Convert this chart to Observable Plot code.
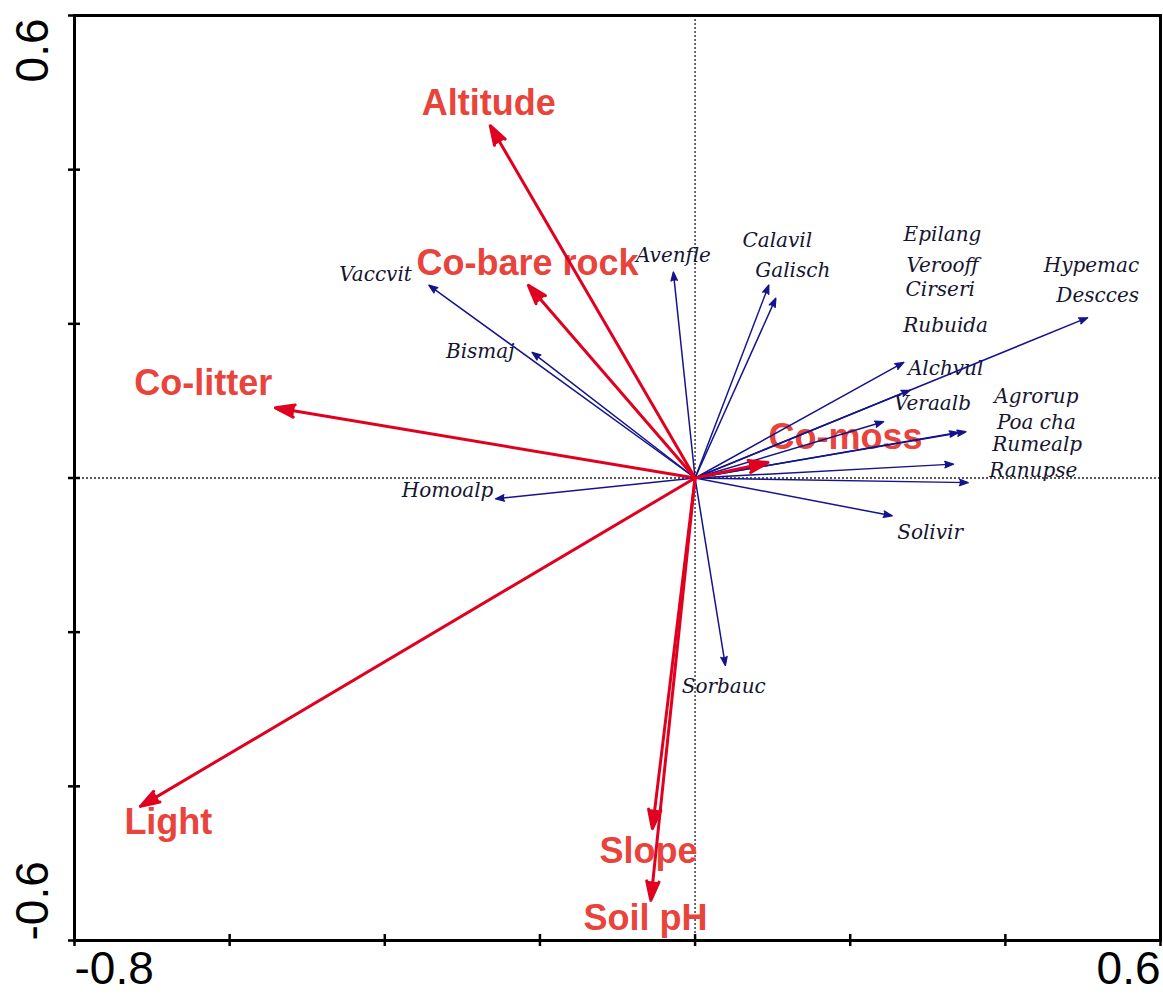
<!DOCTYPE html>
<html><head><meta charset="utf-8">
<script src="https://cdn.jsdelivr.net/npm/d3@7"></script>
<script src="https://cdn.jsdelivr.net/npm/@observablehq/plot@0.6"></script>
<style>body{margin:0;background:#fff}</style>
</head><body><div id="chart"></div>
<script>
// Environmental variables (red vectors)
const envNames  = ["Altitude", "Co-bare rock", "Co-litter", "Co-moss", "Light", "Slope", "Soil pH"];
const envX      = [-0.264, -0.215, -0.541, 0.094, -0.715, -0.055, -0.057];
const envY      = [ 0.457,  0.250,  0.091, 0.020, -0.426, -0.455, -0.548];
const envLabelX = [-0.266, -0.216, -0.634, 0.194, -0.679, -0.060, -0.064];
const envLabelY = [ 0.486,  0.278,  0.123, 0.053, -0.447, -0.484, -0.571];

// Species (blue vectors)
const spNames  = ["Vaccvit","Bismaj","Avenfle","Calavil","Galisch","Epilang","Verooff","Cirseri","Rubuida","Hypemac","Descces","Alchvul","Veraalb","Agrorup","Poa cha","Rumealp","Ranupse","Solivir","Homoalp","Sorbauc"];
const spX      = [-0.343,-0.210,-0.028, 0.095, 0.104, 0.269, 0.277, 0.506, 0.277, 0.506, 0.506, 0.269, 0.243, 0.339, 0.349, 0.333, 0.352, 0.254,-0.257, 0.039];
const spY      = [ 0.250, 0.163, 0.267, 0.250, 0.233, 0.150, 0.114, 0.208, 0.114, 0.208, 0.208, 0.150, 0.073, 0.059, 0.060, 0.018,-0.006,-0.049,-0.027,-0.243];
const spLabelX = [-0.412,-0.277,-0.028, 0.106, 0.126, 0.319, 0.319, 0.316, 0.323, 0.511, 0.519, 0.323, 0.306, 0.440, 0.440, 0.441, 0.436, 0.303,-0.319, 0.037];
const spLabelY = [ 0.264, 0.164, 0.289, 0.308, 0.269, 0.316, 0.276, 0.245, 0.198, 0.276, 0.237, 0.142, 0.097, 0.106, 0.072, 0.043, 0.010,-0.071,-0.016,-0.270];

// Axes
const xTicks = [-0.8, -0.6, -0.4, -0.2, 0, 0.2, 0.4, 0.6];
const yTicks = [-0.6, -0.4, -0.2, 0, 0.2, 0.4, 0.6];
const xTickLabelsStart = [-0.8];
const xTickLabelsEnd = [0.6];
const yTickLabelsTop = [0.6];
const yTickLabelsBottom = [-0.6];

const env = envNames.map((name, i) => ({name, x: envX[i], y: envY[i], lx: envLabelX[i], ly: envLabelY[i]}));
const species = spNames.map((name, i) => ({name, x: spX[i], y: spY[i], lx: spLabelX[i], ly: spLabelY[i]}));
// draw each distinct vector once (coincident vectors would otherwise thicken)
const spVectors = Array.from(new Map(species.map(d => [d.x + "," + d.y, d])).values());

const RED = "#e0001f";
const RED_TEXT = "#e8443c";
const BLUE = "#14148c";

const chart = Plot.plot({
  width: 1163,
  height: 1003,
  marginLeft: 74,
  marginRight: 3,
  marginTop: 15,
  marginBottom: 63,
  x: {domain: [-0.8, 0.6]},
  y: {domain: [-0.6, 0.6]},
  style: {background: "#fff", fontFamily: "'Liberation Sans', Arial, sans-serif"},
  marks: [
    Plot.ruleX([0], {stroke: "#222", strokeWidth: 1.3, strokeDasharray: "2,2"}),
    Plot.ruleY([0], {stroke: "#222", strokeWidth: 1.3, strokeDasharray: "2,2"}),
    Plot.text(env, {x: "lx", y: "ly", text: "name", fill: RED_TEXT, fontSize: 36, fontWeight: "bold", fontFamily: "'Liberation Sans', Arial, sans-serif"}),
    Plot.text(species, {x: "lx", y: "ly", text: "name", fill: "#151530", fontSize: 20, fontStyle: "italic", fontFamily: "'DejaVu Serif', serif"}),
    Plot.arrow(spVectors, {x1: 0, y1: 0, x2: "x", y2: "y", stroke: BLUE, fill: BLUE, strokeWidth: 1.5, headLength: 9, headAngle: 40, strokeLinejoin: "miter"}),
    Plot.arrow(env, {x1: 0, y1: 0, x2: "x", y2: "y", stroke: RED, fill: RED, strokeWidth: 3, headLength: 10, headAngle: 36, strokeLinejoin: "miter"}),
    Plot.frame({stroke: "#000", strokeWidth: 3}),
    Plot.axisX({ticks: xTicks, tickSize: 12, dy: -6, tickFormat: () => "", strokeWidth: 2.5}),
    Plot.axisY({ticks: yTicks, tickSize: 12, dx: 6, tickFormat: () => "", strokeWidth: 2.5}),
    Plot.text(xTickLabelsStart, {x: d => d, frameAnchor: "bottom", dy: 43, textAnchor: "start", text: d => String(d), fontSize: 46, fill: "#000"}),
    Plot.text(xTickLabelsEnd, {x: d => d, frameAnchor: "bottom", dy: 43, textAnchor: "end", text: d => String(d), fontSize: 46, fill: "#000"}),
    Plot.text(yTickLabelsTop, {y: d => d, frameAnchor: "left", dx: -41, dy: 3, rotate: -90, textAnchor: "end", text: d => String(d), fontSize: 46, fill: "#000"}),
    Plot.text(yTickLabelsBottom, {y: d => d, frameAnchor: "left", dx: -41, rotate: -90, textAnchor: "start", text: d => String(d), fontSize: 46, fill: "#000"})
  ]
});
document.getElementById("chart").appendChild(chart);
</script>
</body></html>
